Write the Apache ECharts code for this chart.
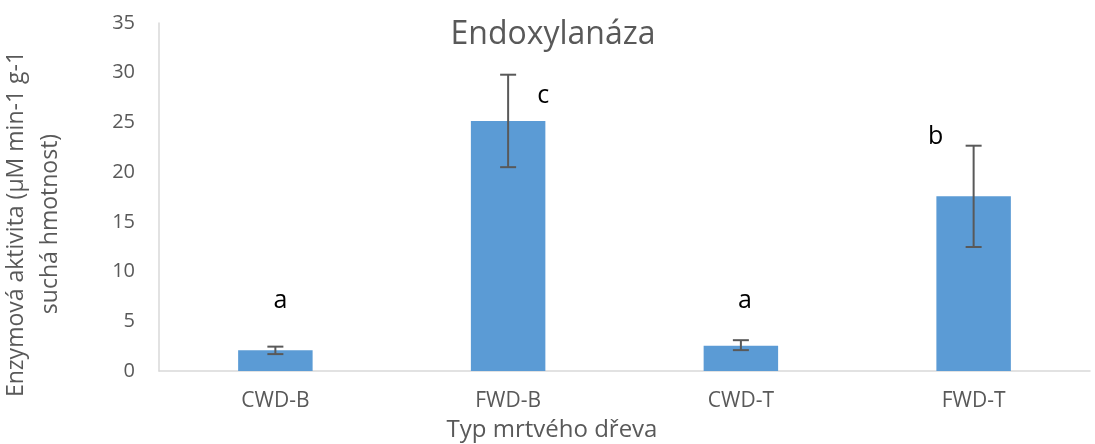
<!DOCTYPE html>
<html>
<head>
<meta charset="utf-8">
<script src="https://cdn.jsdelivr.net/npm/echarts@6/dist/echarts.min.js"></script>
<style>
  html, body { margin: 0; padding: 0; background: #fff; }
  #chart { width: 1095px; height: 444px; }
</style>
</head>
<body>
<div id="chart"></div>
<script>
  // data
  var categories = ['CWD-B', 'FWD-B', 'CWD-T', 'FWD-T'];
  var means = [2.08, 25.15, 2.55, 17.57];
  var errLow = [1.7, 20.5, 2.1, 12.47];
  var errHigh = [2.45, 29.8, 3.1, 22.66];
  var letters = ['a', 'c', 'a', 'b'];
  var letterY = [7.1, 27.7, 7.1, 23.5];

  var font = '"Open Sans", "Noto Sans", sans-serif';
  var grey = '#595959';

  var chart = echarts.init(document.getElementById('chart'));

  var option = {
    animation: false,
    title: [
      {
        text: 'Endoxylanáza',
        left: 548, top: 14, textAlign: 'center',
        textStyle: { fontFamily: font, fontSize: 32, fontWeight: 'normal', color: grey }
      },
      {
        text: 'Typ mrtvého dřeva',
        left: 547, top: 413, textAlign: 'center',
        textStyle: { fontFamily: font, fontSize: 24, fontWeight: 'normal', color: grey }
      }
    ],
    grid: { left: 159, right: 5, top: 23, bottom: 73, outerBoundsMode: 'none' },
    xAxis: {
      type: 'category',
      data: categories,
      axisLine: { lineStyle: { color: '#d9d9d9', width: 1.5 } },
      axisTick: { show: false },
      axisLabel: { fontFamily: font, fontSize: 21, color: grey, margin: 20 }
    },
    yAxis: {
      type: 'value',
      min: 0, max: 35, interval: 5,
      name: 'Enzymová aktivita (µM min-1 g-1\nsuchá hmotnost)',
      nameLocation: 'middle',
      nameGap: 92,
      nameTextStyle: { fontFamily: font, fontSize: 23, color: grey, lineHeight: 34, padding: [0, 54, 0, 0] },
      axisLine: { show: true, lineStyle: { color: '#d9d9d9', width: 1.5 } },
      axisTick: { show: false },
      splitLine: { show: false },
      axisLabel: { fontFamily: font, fontSize: 20, color: grey, margin: 24 }
    },
    series: [
      {
        type: 'bar',
        data: means,
        barWidth: '32%',
        itemStyle: { color: '#5b9bd5' }
      },
      {
        type: 'custom',
        data: categories.map(function (c, i) { return [i, errLow[i], errHigh[i]]; }),
        renderItem: function (params, api) {
          var lo = api.coord([api.value(0), api.value(1)]);
          var hi = api.coord([api.value(0), api.value(2)]);
          var w = 8;
          var st = { stroke: grey, lineWidth: 2 };
          return {
            type: 'group',
            children: [
              { type: 'line', shape: { x1: lo[0], y1: lo[1], x2: hi[0], y2: hi[1] }, style: st },
              { type: 'line', shape: { x1: lo[0] - w, y1: lo[1], x2: lo[0] + w, y2: lo[1] }, style: st },
              { type: 'line', shape: { x1: hi[0] - w, y1: hi[1], x2: hi[0] + w, y2: hi[1] }, style: st }
            ]
          };
        },
        z: 5
      },
      {
        type: 'custom',
        data: categories.map(function (c, i) { return [i, letterY[i]]; }),
        renderItem: function (params, api) {
          var p = api.coord([api.value(0), api.value(1)]);
          var dx = [5, 35, 4, -38][params.dataIndex];
          return {
            type: 'text',
            style: {
              x: p[0] + dx, y: p[1],
              text: letters[params.dataIndex],
              fontFamily: font, fontSize: 25, fill: '#000',
              align: 'center', verticalAlign: 'middle'
            }
          };
        },
        z: 6
      }
    ]
  };

  chart.setOption(option);
</script>
</body>
</html>
